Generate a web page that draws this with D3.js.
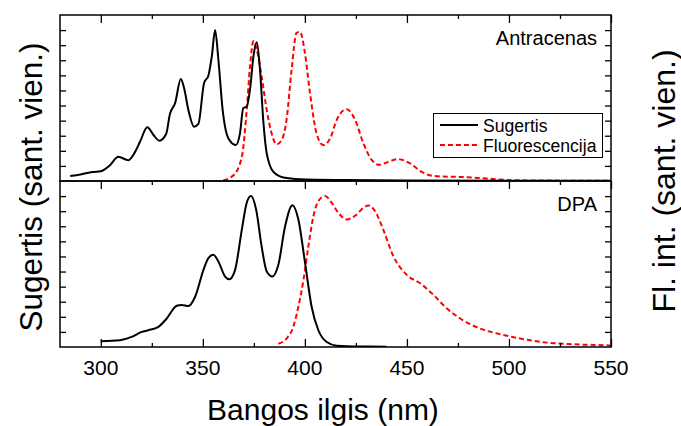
<!DOCTYPE html>
<html>
<head>
<meta charset="utf-8">
<script src="https://cdn.jsdelivr.net/npm/d3@7"></script>
<style>
  body { margin: 0; background: #fff; }
  svg { font-family: "Liberation Sans", Arial, sans-serif; }
</style>
</head>
<body>
<div id="chart"></div>
<script>
// data +++++++++++++++++++++++++++++++++++++
// [wavelength nm, normalized intensity]
const antracenasSugertis = [
  [285,0.033],[290,0.043],[296,0.06],[300,0.065],[304.5,0.105],[308.6,0.16],[313.5,0.138],
  [316.8,0.193],[319.2,0.26],[322.8,0.356],[325.8,0.305],[328.7,0.267],[332,0.311],[333.9,0.445],
  [336.4,0.516],[339.2,0.676],[340.8,0.616],[342.9,0.471],[345.7,0.36],[347.8,0.378],[350.6,0.649],
  [352.7,0.698],[354.4,0.827],[356,1.0],[357.6,0.805],[359.7,0.471],[362.5,0.283],[366.1,0.238],
  [368.2,0.316],[369.8,0.483],[371.5,0.493],[373.1,0.605],[374.8,0.827],[376.4,0.92],[378,0.738],
  [379.7,0.383],[381.3,0.183],[384.6,0.06],[389.5,0.023],[397.6,0.012],[420,0.006],[450,0.003],[550,0.001]
];
const antracenasFluor = [
  [360,0.005],[365,0.038],[369.1,0.16],[371.5,0.47],[373.1,0.76],[374.8,0.927],[376.4,0.871],
  [378.8,0.693],[381.3,0.471],[383.7,0.316],[386.1,0.243],[388.6,0.271],[391,0.405],[393.5,0.738],
  [395.9,0.982],[397.6,0.989],[400,0.849],[402.5,0.583],[405.7,0.316],[409,0.238],[412.4,0.283],
  [415.6,0.405],[420.5,0.476],[424.6,0.405],[428.7,0.249],[432.8,0.138],[436.5,0.107],[440.9,0.127],
  [445.8,0.145],[451.6,0.116],[457.3,0.06],[463,0.033],[479.4,0.025],[489.2,0.016],[502,0.005],[550,0.001]
];
const dpaSugertis = [
  [300,0.038],[309.4,0.045],[315.1,0.067],[320,0.1],[323.3,0.111],[328.2,0.133],[332.3,0.189],
  [337.2,0.273],[339.6,0.278],[342.9,0.271],[346.2,0.333],[350.3,0.511],[352.7,0.589],[355.1,0.611],
  [357.6,0.567],[360.9,0.467],[363,0.449],[365.8,0.511],[369.1,0.778],[371.5,0.956],[373.6,1.0],
  [376.1,0.911],[378.8,0.667],[381.3,0.5],[384,0.467],[387,0.545],[390.3,0.8],[393.9,0.94],
  [396.8,0.845],[400.1,0.556],[403.3,0.267],[406.6,0.111],[410.7,0.033],[415.6,0.009],[427,0.003],[440,0.002]
];
const dpaFluor = [
  [387,0.022],[391,0.056],[394.3,0.133],[396.8,0.267],[399.3,0.444],[401.7,0.667],[404.2,0.867],
  [406.6,0.967],[409.9,1.0],[413.1,0.956],[416.4,0.889],[420.5,0.845],[424.6,0.87],[429.5,0.93],
  [431.1,0.938],[434.4,0.9],[438.4,0.778],[443.4,0.6],[449.9,0.478],[456.5,0.422],[463,0.345],
  [469.5,0.256],[476.1,0.189],[485.9,0.122],[495.7,0.085],[505.5,0.056],[518.6,0.029],[531.7,0.018],
  [548,0.011],[550,0.01]
];
const xTicks = [300, 350, 400, 450, 500, 550];
const xMinorTicks = [325, 375, 425, 475, 525];
const yTicks = [0.1, 0.2, 0.3, 0.4, 0.5, 0.6, 0.7, 0.8, 0.9, 1.0];
const panelNames = ["Antracenas", "DPA"];
const legendLabels = ["Sugertis", "Fluorescencija"];
// data -------------------------------------

const width = 681, height = 426;
const plotLeft = 60, plotRight = 611, plotTop = 15, plotMid = 181, plotBottom = 347;

const svg = d3.select("#chart").append("svg")
  .attr("width", width)
  .attr("height", height);

const x = d3.scaleLinear().domain([280, 550]).range([plotLeft, plotRight]);

const panels = [
  { name: panelNames[0], y0: plotTop, y1: plotMid, abs: antracenasSugertis, fl: antracenasFluor },
  { name: panelNames[1], y0: plotMid, y1: plotBottom, abs: dpaSugertis, fl: dpaFluor }
];

function noDomain(a) { a.select(".domain").remove(); }

panels.forEach((p, i) => {
  const y = d3.scaleLinear().domain([0, 1.1]).range([p.y1, p.y0]);
  const g = svg.append("g");

  // clip so curves stay in the frame
  g.append("clipPath").attr("id", "clip" + i)
    .append("rect")
    .attr("x", plotLeft).attr("y", p.y0)
    .attr("width", plotRight - plotLeft).attr("height", p.y1 - p.y0);

  const line = d3.line()
    .x(d => x(d[0]))
    .y(d => y(d[1]))
    .curve(d3.curveMonotoneX);

  g.append("path")
    .datum(p.fl)
    .attr("clip-path", `url(#clip${i})`)
    .attr("fill", "none")
    .attr("stroke", "#ff0000")
    .attr("stroke-width", 2)
    .attr("stroke-dasharray", "5,3")
    .attr("d", line);

  g.append("path")
    .datum(p.abs)
    .attr("clip-path", `url(#clip${i})`)
    .attr("fill", "none")
    .attr("stroke", "#000")
    .attr("stroke-width", 2)
    .attr("d", line);

  // y ticks, inward on both sides
  g.append("g")
    .attr("transform", `translate(${plotLeft},0)`)
    .call(d3.axisRight(y).tickValues(yTicks).tickSize(6).tickFormat(""))
    .call(noDomain);
  g.append("g")
    .attr("transform", `translate(${plotRight},0)`)
    .call(d3.axisLeft(y).tickValues(yTicks).tickSize(6).tickFormat(""))
    .call(noDomain);

  // top ticks, pointing down
  g.append("g")
    .attr("transform", `translate(0,${p.y0})`)
    .call(d3.axisBottom(x).tickValues(xTicks).tickSize(8).tickFormat(""))
    .call(noDomain);
  g.append("g")
    .attr("transform", `translate(0,${p.y0})`)
    .call(d3.axisBottom(x).tickValues(xMinorTicks).tickSize(4).tickFormat(""))
    .call(noDomain);

  // frame
  g.append("rect")
    .attr("x", plotLeft).attr("y", p.y0)
    .attr("width", plotRight - plotLeft).attr("height", p.y1 - p.y0)
    .attr("fill", "none")
    .attr("stroke", "#000")
    .attr("stroke-width", 1.5);

  g.append("text")
    .attr("x", 597)
    .attr("y", p.y0 + 30)
    .attr("text-anchor", "end")
    .attr("font-size", 20)
    .text(p.name);

  g.selectAll(".tick line").attr("stroke", "#000").attr("stroke-width", 1.3);
});

// bottom x axis, ticks pointing up
const xAxis = svg.append("g")
  .attr("transform", `translate(0,${plotBottom})`);
xAxis.call(d3.axisTop(x).tickValues(xTicks).tickSize(8).tickFormat(""))
  .call(noDomain);
xAxis.append("g")
  .call(d3.axisTop(x).tickValues(xMinorTicks).tickSize(4).tickFormat(""))
  .call(noDomain);
xAxis.selectAll(".tick line").attr("stroke", "#000").attr("stroke-width", 1.3);

svg.append("g").selectAll("text")
  .data(xTicks)
  .join("text")
  .attr("x", d => x(d))
  .attr("y", 375)
  .attr("text-anchor", "middle")
  .attr("font-size", 21)
  .text(d => d);

// axis titles
svg.append("text")
  .attr("x", 323)
  .attr("y", 420)
  .attr("text-anchor", "middle")
  .attr("font-size", 30)
  .text("Bangos ilgis (nm)");

svg.append("text")
  .attr("transform", `translate(31,187) rotate(-90)`)
  .attr("dy", "0.35em")
  .attr("text-anchor", "middle")
  .attr("font-size", 31.5)
  .text("Sugertis (sant. vien.)");

svg.append("text")
  .attr("transform", `translate(664,181) rotate(-90)`)
  .attr("dy", "0.35em")
  .attr("text-anchor", "middle")
  .attr("font-size", 32)
  .text("Fl. int. (sant. vien.)");

// legend
const legend = svg.append("g");
legend.append("rect")
  .attr("x", 433.5).attr("y", 113.5)
  .attr("width", 169).attr("height", 44)
  .attr("fill", "#fff")
  .attr("stroke", "#000")
  .attr("stroke-width", 1);

legendLabels.forEach((lab, i) => {
  const ly = 125 + i * 20;
  legend.append("line")
    .attr("x1", 440).attr("x2", 478)
    .attr("y1", ly).attr("y2", ly)
    .attr("stroke", i === 0 ? "#000" : "#ff0000")
    .attr("stroke-width", 2)
    .attr("stroke-dasharray", i === 0 ? null : "5,3");
  legend.append("text")
    .attr("x", 483)
    .attr("y", ly + 6.5)
    .attr("font-size", 17.6)
    .text(lab);
});
</script>
</body>
</html>
